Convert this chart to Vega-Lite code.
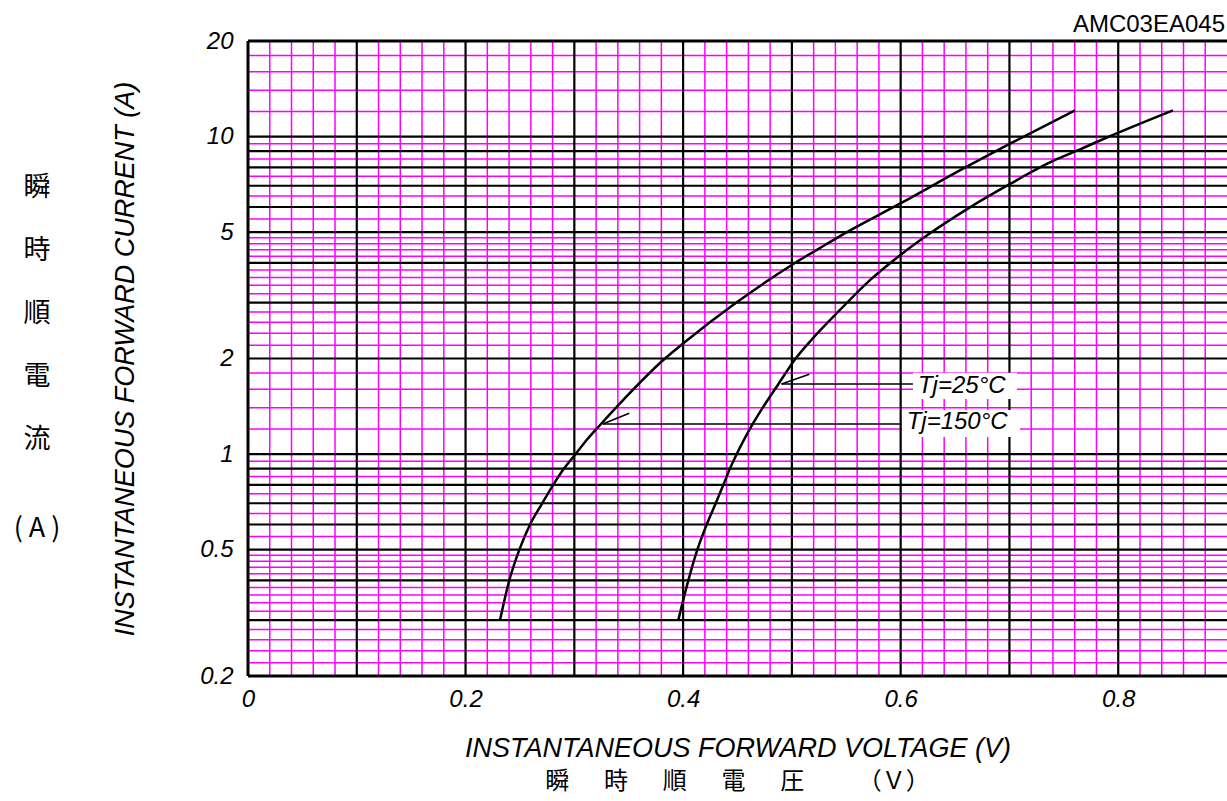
{
  "$schema": "https://vega.github.io/schema/vega-lite/v6.json",
  "width": 979,
  "height": 635,
  "autosize": {"type": "none"},
  "padding": {"left": 248, "top": 41, "right": 0, "bottom": 125},
  "background": "white",
  "config": {"view": {"stroke": null}, "font": "Liberation Sans"},
  "title": {
    "text": "瞬　 \u00a0時　 \u00a0順　 \u00a0電　 \u00a0圧　　 （Ｖ）",
    "orient": "bottom",
    "anchor": "middle",
    "font": "Noto Sans CJK JP",
    "fontSize": 24,
    "fontWeight": "normal",
    "color": "black",
    "offset": 9
  },
  "datasets": {
    "vminor": [
      {"v": 0.02}, {"v": 0.04}, {"v": 0.06}, {"v": 0.08},
      {"v": 0.12}, {"v": 0.14}, {"v": 0.16}, {"v": 0.18},
      {"v": 0.22}, {"v": 0.24}, {"v": 0.26}, {"v": 0.28},
      {"v": 0.32}, {"v": 0.34}, {"v": 0.36}, {"v": 0.38},
      {"v": 0.42}, {"v": 0.44}, {"v": 0.46}, {"v": 0.48},
      {"v": 0.52}, {"v": 0.54}, {"v": 0.56}, {"v": 0.58},
      {"v": 0.62}, {"v": 0.64}, {"v": 0.66}, {"v": 0.68},
      {"v": 0.72}, {"v": 0.74}, {"v": 0.76}, {"v": 0.78},
      {"v": 0.82}, {"v": 0.84}, {"v": 0.86}, {"v": 0.88}
    ],
    "vmajor": [
      {"v": 0.1}, {"v": 0.2}, {"v": 0.3}, {"v": 0.4}, {"v": 0.5}, {"v": 0.6}, {"v": 0.7}, {"v": 0.8}
    ],
    "hminor": [
      {"v": 0.22}, {"v": 0.24}, {"v": 0.26}, {"v": 0.28},
      {"v": 0.32}, {"v": 0.34}, {"v": 0.36}, {"v": 0.38},
      {"v": 0.42}, {"v": 0.44}, {"v": 0.46}, {"v": 0.48},
      {"v": 0.55}, {"v": 0.65}, {"v": 0.75}, {"v": 0.85}, {"v": 0.95},
      {"v": 1.2}, {"v": 1.4}, {"v": 1.6}, {"v": 1.8},
      {"v": 2.2}, {"v": 2.4}, {"v": 2.6}, {"v": 2.8},
      {"v": 3.2}, {"v": 3.4}, {"v": 3.6}, {"v": 3.8},
      {"v": 4.2}, {"v": 4.4}, {"v": 4.6}, {"v": 4.8},
      {"v": 5.5}, {"v": 6.5}, {"v": 7.5}, {"v": 8.5}, {"v": 9.5},
      {"v": 12}, {"v": 14}, {"v": 16}, {"v": 18}
    ],
    "hmajor": [
      {"v": 0.3}, {"v": 0.4}, {"v": 0.5}, {"v": 0.6}, {"v": 0.7}, {"v": 0.8}, {"v": 0.9},
      {"v": 1}, {"v": 2}, {"v": 3}, {"v": 4}, {"v": 5}, {"v": 6}, {"v": 7}, {"v": 8}, {"v": 9}, {"v": 10}
    ],
    "curves": [
      {"Tj": "150", "V": 0.2317, "I": 0.30},
      {"Tj": "150", "V": 0.2402, "I": 0.40},
      {"Tj": "150", "V": 0.2495, "I": 0.50},
      {"Tj": "150", "V": 0.2593, "I": 0.60},
      {"Tj": "150", "V": 0.2705, "I": 0.70},
      {"Tj": "150", "V": 0.2806, "I": 0.80},
      {"Tj": "150", "V": 0.2905, "I": 0.90},
      {"Tj": "150", "V": 0.3012, "I": 1.0},
      {"Tj": "150", "V": 0.3113, "I": 1.107},
      {"Tj": "150", "V": 0.3245, "I": 1.244},
      {"Tj": "150", "V": 0.342, "I": 1.445},
      {"Tj": "150", "V": 0.3833, "I": 2.0},
      {"Tj": "150", "V": 0.4008, "I": 2.242},
      {"Tj": "150", "V": 0.449, "I": 3.0},
      {"Tj": "150", "V": 0.5013, "I": 3.97},
      {"Tj": "150", "V": 0.5245, "I": 4.43},
      {"Tj": "150", "V": 0.5442, "I": 4.86},
      {"Tj": "150", "V": 0.601, "I": 6.19},
      {"Tj": "150", "V": 0.6607, "I": 8.04},
      {"Tj": "150", "V": 0.7014, "I": 9.53},
      {"Tj": "150", "V": 0.7603, "I": 12.1},
      {"Tj": "25", "V": 0.3956, "I": 0.30},
      {"Tj": "25", "V": 0.4048, "I": 0.40},
      {"Tj": "25", "V": 0.4131, "I": 0.50},
      {"Tj": "25", "V": 0.4217, "I": 0.60},
      {"Tj": "25", "V": 0.430, "I": 0.70},
      {"Tj": "25", "V": 0.437, "I": 0.80},
      {"Tj": "25", "V": 0.4431, "I": 0.90},
      {"Tj": "25", "V": 0.4493, "I": 1.0},
      {"Tj": "25", "V": 0.464, "I": 1.244},
      {"Tj": "25", "V": 0.4875, "I": 1.66},
      {"Tj": "25", "V": 0.5035, "I": 2.0},
      {"Tj": "25", "V": 0.5185, "I": 2.30},
      {"Tj": "25", "V": 0.5442, "I": 2.844},
      {"Tj": "25", "V": 0.5718, "I": 3.53},
      {"Tj": "25", "V": 0.601, "I": 4.27},
      {"Tj": "25", "V": 0.627, "I": 4.96},
      {"Tj": "25", "V": 0.6607, "I": 5.9},
      {"Tj": "25", "V": 0.7014, "I": 7.12},
      {"Tj": "25", "V": 0.7419, "I": 8.44},
      {"Tj": "25", "V": 0.7649, "I": 9.12},
      {"Tj": "25", "V": 0.8001, "I": 10.29},
      {"Tj": "25", "V": 0.8503, "I": 12.1}
    ],
    "leaders": [
      {"x1": 0.3261, "y1": 1.2436, "x2": 0.6012, "y2": 1.2436},
      {"x1": 0.3261, "y1": 1.2436, "x2": 0.3505, "y2": 1.344},
      {"x1": 0.4905, "y1": 1.662, "x2": 0.6113, "y2": 1.662},
      {"x1": 0.4905, "y1": 1.662, "x2": 0.516, "y2": 1.784}
    ],
    "boxes": [
      {"bx1": 0.6113, "bx2": 0.7069, "by1": 1.491, "by2": 1.802},
      {"bx1": 0.6012, "bx2": 0.7097, "by1": 1.132, "by2": 1.377}
    ],
    "labels": [
      {"label": "Tj=25°C", "lx": 0.6159, "ly": 1.638},
      {"label": "Tj=150°C", "lx": 0.6055, "ly": 1.264}
    ]
  },
  "layer": [
    {
      "data": {"name": "vminor"},
      "mark": {"type": "rule", "color": "#FF00FF", "strokeWidth": 1.5},
      "encoding": {
        "x": {
          "field": "v", "type": "quantitative",
          "scale": {"domain": [0, 0.9], "nice": false, "zero": false},
          "axis": {
            "values": [0, 0.2, 0.4, 0.6, 0.8],
            "format": "~g",
            "grid": false, "domain": false, "ticks": false, "tickSize": 0,
            "labelFont": "Liberation Sans", "labelFontStyle": "italic", "labelFontSize": 24,
            "labelColor": "black", "labelPadding": 11, "labelFlush": false, "labelOverlap": false,
            "title": "INSTANTANEOUS FORWARD VOLTAGE (V)",
            "titleFont": "Liberation Sans", "titleFontStyle": "italic", "titleFontWeight": "normal",
            "titleFontSize": 27, "titleColor": "black", "titlePadding": 24
          }
        }
      }
    },
    {
      "data": {"name": "hminor"},
      "mark": {"type": "rule", "color": "#FF00FF", "strokeWidth": 1.5},
      "encoding": {
        "y": {
          "field": "v", "type": "quantitative",
          "scale": {"type": "log", "domain": [0.2, 20], "nice": false},
          "axis": {
            "values": [0.2, 0.5, 1, 2, 5, 10, 20],
            "format": "~g",
            "grid": false, "domain": false, "ticks": false, "tickSize": 0,
            "labelFont": "Liberation Sans", "labelFontStyle": "italic", "labelFontSize": 24,
            "labelColor": "black", "labelPadding": 15, "labelFlush": false, "labelOverlap": false,
            "title": "INSTANTANEOUS FORWARD CURRENT (A)",
            "titleFont": "Liberation Sans", "titleFontStyle": "italic", "titleFontWeight": "normal",
            "titleFontSize": 27, "titleColor": "black", "titlePadding": 60
          }
        }
      }
    },
    {
      "data": {"name": "vmajor"},
      "mark": {"type": "rule", "color": "black", "strokeWidth": 2.2},
      "encoding": {"x": {"field": "v", "type": "quantitative"}}
    },
    {
      "data": {"name": "hmajor"},
      "mark": {"type": "rule", "color": "black", "strokeWidth": 2.2},
      "encoding": {"y": {"field": "v", "type": "quantitative"}}
    },
    {
      "data": {"name": "curves"},
      "mark": {"type": "line", "color": "black", "strokeWidth": 2.5, "interpolate": "monotone"},
      "encoding": {
        "x": {"field": "V", "type": "quantitative"},
        "y": {"field": "I", "type": "quantitative"},
        "detail": {"field": "Tj", "type": "nominal"}
      }
    },
    {
      "data": {"name": "leaders"},
      "mark": {"type": "rule", "color": "black", "strokeWidth": 1.5},
      "encoding": {
        "x": {"field": "x1", "type": "quantitative"},
        "x2": {"field": "x2"},
        "y": {"field": "y1", "type": "quantitative"},
        "y2": {"field": "y2"}
      }
    },
    {
      "data": {"name": "boxes"},
      "mark": {"type": "rect", "fill": "white"},
      "encoding": {
        "x": {"field": "bx1", "type": "quantitative"},
        "x2": {"field": "bx2"},
        "y": {"field": "by1", "type": "quantitative"},
        "y2": {"field": "by2"}
      }
    },
    {
      "data": {"name": "labels"},
      "mark": {"type": "text", "align": "left", "baseline": "middle", "font": "Liberation Sans", "fontStyle": "italic", "fontSize": 24, "color": "black"},
      "encoding": {
        "x": {"field": "lx", "type": "quantitative"},
        "y": {"field": "ly", "type": "quantitative"},
        "text": {"field": "label"}
      }
    },
    {
      "data": {"values": [{}]},
      "mark": {"type": "rule", "color": "black", "strokeWidth": 3},
      "encoding": {"y": {"datum": 20}}
    },
    {
      "data": {"values": [{}]},
      "mark": {"type": "rule", "color": "black", "strokeWidth": 3},
      "encoding": {"y": {"datum": 0.2}}
    },
    {
      "data": {"values": [{}]},
      "mark": {"type": "rule", "color": "black", "strokeWidth": 3},
      "encoding": {"x": {"datum": 0}}
    },
    {
      "data": {"values": [{"t": "AMC03EA045"}]},
      "mark": {"type": "text", "align": "right", "baseline": "alphabetic", "font": "Liberation Sans", "fontSize": 24, "color": "black", "dx": -2, "dy": -9},
      "encoding": {
        "x": {"datum": 0.9},
        "y": {"datum": 20},
        "text": {"field": "t"}
      }
    },
    {
      "data": {"values": [{"t": ["瞬", "時", "順", "電", "流"]}]},
      "mark": {"type": "text", "align": "center", "baseline": "middle", "font": "Noto Sans CJK JP", "fontSize": 27, "lineHeight": 63, "color": "black", "dx": -211},
      "encoding": {
        "x": {"datum": 0},
        "y": {"datum": 6.89},
        "text": {"field": "t"}
      }
    },
    {
      "data": {"values": [{"t": "( A )"}]},
      "mark": {"type": "text", "align": "center", "baseline": "middle", "font": "Noto Sans CJK JP", "fontSize": 27, "color": "black", "dx": -211},
      "encoding": {
        "x": {"datum": 0},
        "y": {"datum": 0.581},
        "text": {"field": "t"}
      }
    }
  ]
}
